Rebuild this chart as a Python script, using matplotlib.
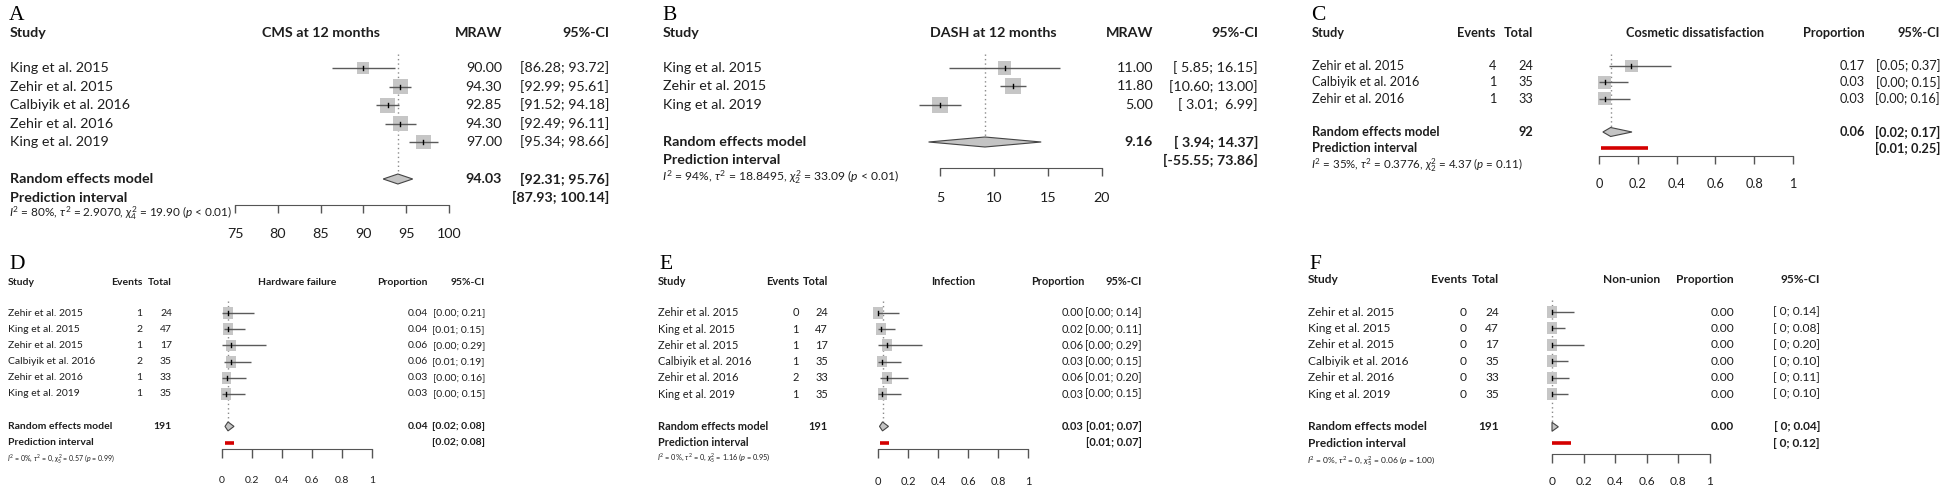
import numpy as np
import matplotlib
matplotlib.use("Agg")
import matplotlib.pyplot as plt
from matplotlib.patches import Rectangle, Polygon
from matplotlib.transforms import Affine2D, blended_transform_factory

W, H = 1946, 486
plt.rcParams['font.family'] = ['Lato', 'DejaVu Sans']
plt.rcParams['mathtext.fontset'] = 'custom'
plt.rcParams['mathtext.rm'] = 'Lato'
plt.rcParams['mathtext.it'] = 'Lato:italic'
plt.rcParams['mathtext.bf'] = 'Lato:bold'

# ---- A: CMS at 12 months ----
studies_A = ["King et al. 2015", "Zehir et al. 2015", "Calbiyik et al. 2016",
             "Zehir et al. 2016", "King et al. 2019"]
mraw_A = [90.00, 94.30, 92.85, 94.30, 97.00]
lo_A = [86.28, 92.99, 91.52, 92.49, 95.34]
hi_A = [93.72, 95.61, 94.18, 96.11, 98.66]
w_A = [14.0, 21.6, 21.8, 21.0, 21.6]
re_A = (94.03, 92.31, 95.76)
pi_A = (87.93, 100.14)
het_A = r"$I^2$ = 80%, $\tau^2$ = 2.9070, $\chi^2_4$ = 19.90 ($p$ < 0.01)"

# ---- B: DASH at 12 months ----
studies_B = ["King et al. 2015", "Zehir et al. 2015", "King et al. 2019"]
mraw_B = [11.00, 11.80, 5.00]
lo_B = [5.85, 10.60, 3.01]
hi_B = [16.15, 13.00, 6.99]
w_B = [26.0, 37.5, 36.5]
re_B = (9.16, 3.94, 14.37)
pi_B = (-55.55, 73.86)
het_B = r"$I^2$ = 94%, $\tau^2$ = 18.8495, $\chi^2_2$ = 33.09 ($p$ < 0.01)"

# ---- C: Cosmetic dissatisfaction ----
studies_C = ["Zehir et al. 2015", "Calbiyik et al. 2016", "Zehir et al. 2016"]
events_C = [4, 1, 1]
total_C = [24, 35, 33]
lo_C = [0.05, 0.00, 0.00]
hi_C = [0.37, 0.15, 0.16]
w_C = [33.3, 33.3, 33.4]
re_C = (0.06, 0.02, 0.17)
pi_C = (0.01, 0.25)
het_C = r"$I^2$ = 35%, $\tau^2$ = 0.3776, $\chi^2_2$ = 4.37 ($p$ = 0.11)"

# ---- D/E/F share the study list ----
studies_6 = ["Zehir et al. 2015", "King et al. 2015", "Zehir et al. 2015",
             "Calbiyik et al. 2016", "Zehir et al. 2016", "King et al. 2019"]
total_6 = [24, 47, 17, 35, 33, 35]

events_D = [1, 2, 1, 2, 1, 1]
lo_D = [0.00, 0.01, 0.00, 0.01, 0.00, 0.00]
hi_D = [0.21, 0.15, 0.29, 0.19, 0.16, 0.15]
w_D = [16.0, 17.5, 16.5, 17.5, 16.3, 16.2]
re_D = (0.04, 0.02, 0.08)
pi_D = (0.02, 0.08)
het_D = r"$I^2$ = 0%, $\tau^2$ = 0, $\chi^2_5$ = 0.57 ($p$ = 0.99)"

events_E = [0, 1, 1, 1, 2, 1]
lo_E = [0.00, 0.00, 0.00, 0.00, 0.01, 0.00]
hi_E = [0.14, 0.11, 0.29, 0.15, 0.20, 0.15]
w_E = [16.5, 16.0, 17.5, 16.5, 17.5, 16.0]
re_E = (0.03, 0.01, 0.07)
pi_E = (0.01, 0.07)
het_E = r"$I^2$ = 0%, $\tau^2$ = 0, $\chi^2_5$ = 1.16 ($p$ = 0.95)"

events_F = [0, 0, 0, 0, 0, 0]
lo_F = [0, 0, 0, 0, 0, 0]
hi_F = [0.14, 0.08, 0.20, 0.10, 0.11, 0.10]
w_F = [16.7, 16.7, 16.6, 16.7, 16.7, 16.6]
re_F = (0.00, 0.00, 0.04)
pi_F = (0.00, 0.12)
het_F = r"$I^2$ = 0%, $\tau^2$ = 0, $\chi^2_5$ = 0.06 ($p$ = 1.00)"

prop_ticks = [0, 0.2, 0.4, 0.6, 0.8, 1]
prop_labels = ["0", "0.2", "0.4", "0.6", "0.8", "1"]


def ci_plain(lo, hi):
    return f"[{lo:.2f}; {hi:.2f}]"


def ci_pad(lo, hi):
    return f"[{lo:5.2f}; {hi:5.2f}]"


def ci_zero(lo, hi):
    a = " 0" if lo == 0 else f"{lo:.2f}"
    return f"[{a}; {hi:.2f}]"


fig = plt.figure(figsize=(W / 100, H / 100), dpi=100)
PX = Affine2D().scale(1.0 / W, -1.0 / H).translate(0, 1) + fig.transFigure
PT = 72.0 / 100  # points per pixel
TXT = '#1e1e1e'


def forest(lay, studies, est, lo, hi, wts, re, pi, het, title, vlabel,
           ci_fmt, events=None, total=None):
    n = len(studies)
    y0, dy = lay['y0'], lay['dy']
    row = lambda p: (p - y0) / dy
    L, R = lay['px'][0], lay['px'][1]
    T, B = lay['yhead'] - 12, lay['yaxis']
    ax = fig.add_axes([L / W, 1 - B / H, (R - L) / W, (B - T) / H])
    xlim = lay['xlim']
    ax.set_xlim(*xlim)
    ax.set_ylim(row(B), row(T))
    ax.patch.set_visible(False)
    for s in ['top', 'right', 'left']:
        ax.spines[s].set_visible(False)
    ax.spines['bottom'].set_bounds(xlim[0], xlim[1])
    ax.spines['bottom'].set_color('#555555')
    ax.set_yticks([])
    ax.set_xticks(lay['ticks'])
    ax.set_xticklabels(lay['tlabels'])
    fs = lay['fs']
    tick_len = lay['tlen']
    pad = (lay['ylab'] - lay['yaxis']) - tick_len - 0.36 * fs / PT
    ax.tick_params(axis='x', direction='out', length=tick_len * PT, width=1,
                   color='#555555', pad=pad * PT, labelsize=fs, labelcolor=TXT)

    # study squares and confidence intervals
    ppu = (R - L) / (xlim[1] - xlim[0])
    smax = lay['sq']
    for i in range(n):
        side = smax * np.sqrt(wts[i] / max(wts))
        wd = side / ppu
        ht = side * lay['asp'] / dy
        ax.add_patch(Rectangle((est[i] - wd / 2, i - ht / 2), wd, ht,
                               fc='#c6c6c6', ec='none', clip_on=False, zorder=2))
        ax.plot([lo[i], hi[i]], [i, i], color='#5a5a5a', lw=1.0,
                solid_capstyle='butt', clip_on=False, zorder=3)
        ax.plot([est[i], est[i]], [i - 2.0 / dy, i + 2.0 / dy], color='black',
                lw=1.0, clip_on=False, zorder=4)

    # pooled diamond, reference line, prediction interval
    rr = n + 1
    hh = lay['dia'] / dy
    ax.add_patch(Polygon([(re[1], rr), (re[0], rr - hh), (re[2], rr), (re[0], rr + hh)],
                         closed=True, fc='#c4c4c4', ec='#444444', lw=0.8,
                         clip_on=False, zorder=3))
    ax.plot([re[0], re[0]], [-0.75, rr - hh], color='#8a8a8a', lw=1.0,
            ls=(0, (1, 2.2)), clip_on=False, zorder=1)
    if pi[0] >= xlim[0] - 1e-9 and pi[1] <= xlim[1] + 1e-9:
        ax.plot([pi[0], pi[1]], [rr + 1, rr + 1], color='#d40000',
                lw=lay['pilw'], solid_capstyle='butt', clip_on=False, zorder=3)

    # text columns
    tr = blended_transform_factory(PX, ax.transData)
    c = lay['cols']
    kw = dict(transform=tr, va='center', fontsize=fs, color=TXT)
    for i in range(n):
        fig.text(lay['xs'], i, studies[i], ha='left', **kw)
        if events is not None:
            fig.text(c['ev'], i, str(events[i]), ha='right', **kw)
            fig.text(c['tot'], i, str(total[i]), ha='right', **kw)
            val = events[i] / total[i]
        else:
            val = est[i]
        fig.text(c['val'], i, f"{val:.2f}", ha='right', **kw)
        fig.text(c['ci'], i, ci_fmt(lo[i], hi[i]), ha='right', **kw)

    fig.text(lay['xs'], rr, "Random effects model", ha='left', fontweight='bold', **kw)
    if events is not None:
        fig.text(c['tot'], rr, str(sum(total)), ha='right', fontweight='bold', **kw)
    fig.text(c['val'], rr, f"{re[0]:.2f}", ha='right', fontweight='bold', **kw)
    fig.text(c['ci'], rr, ci_fmt(re[1], re[2]), ha='right', fontweight='bold', **kw)
    fig.text(lay['xs'], rr + 1, "Prediction interval", ha='left', fontweight='bold', **kw)
    fig.text(c['ci'], rr + 1, ci_fmt(pi[0], pi[1]), ha='right', fontweight='bold', **kw)
    fig.text(lay['xs'] - 1, row(lay['yhet']), het, transform=tr, ha='left', va='center',
             fontsize=lay['fsh'], color=TXT)

    hk = dict(transform=PX, va='center', fontsize=fs, fontweight='bold', color=TXT)
    yh = lay['yhead']
    fig.text(lay['xs'], yh, "Study", ha='left', **hk)
    if events is not None:
        fig.text(c['ev'], yh, "Events", ha='right', **hk)
        fig.text(c['tot'], yh, "Total", ha='right', **hk)
    fig.text(c['hdr'], yh, title, ha='center', **hk)
    fig.text(c['val'], yh, vlabel, ha='right', **hk)
    fig.text(c['ci'], yh, "95%-CI", ha='right', **hk)
    fig.text(lay['lx'], lay['lbase'], lay['letter'], transform=PX, ha='left',
             va='baseline', fontsize=15.5, family=['Liberation Serif', 'DejaVu Serif'],
             color='black')


lay_A = dict(letter='A', lx=9, lbase=20, xs=10, y0=68, dy=18.5, yhead=33, yaxis=205,
             ylab=233, yhet=213, px=(235, 449), xlim=(75, 100),
             ticks=[75, 80, 85, 90, 95, 100], tlabels=["75", "80", "85", "90", "95", "100"],
             fs=10.3, fsh=8.5, tlen=8, sq=15, asp=1.0, dia=5, pilw=3.0,
             cols=dict(hdr=321, val=502, ci=609))
lay_B = dict(letter='B', lx=662, lbase=20, xs=663, y0=68, dy=18.5, yhead=33, yaxis=168,
             ylab=197, yhet=177, px=(940, 1102), xlim=(5, 20),
             ticks=[5, 10, 15, 20], tlabels=["5", "10", "15", "20"],
             fs=10.3, fsh=8.7, tlen=8, sq=16, asp=1.0, dia=5, pilw=3.0,
             cols=dict(hdr=993, val=1153, ci=1258))
lay_C = dict(letter='C', lx=1311, lbase=20, xs=1312, y0=66, dy=16.5, yhead=33, yaxis=156,
             ylab=183, yhet=165, px=(1599, 1793), xlim=(0, 1),
             ticks=prop_ticks, tlabels=prop_labels,
             fs=9.2, fsh=8.3, tlen=8, sq=13, asp=1.0, dia=4.5, pilw=2.6,
             cols=dict(ev=1496, tot=1533, hdr=1695, val=1865, ci=1940))
lay_D = dict(letter='D', lx=9, lbase=269, xs=8, y0=313, dy=16.2, yhead=282, yaxis=449,
             ylab=480, yhet=459, px=(222, 372), xlim=(0, 1),
             ticks=prop_ticks, tlabels=prop_labels,
             fs=7.5, fsh=5.0, tlen=9, sq=10, asp=1.2, dia=4.5, pilw=2.6,
             cols=dict(ev=142, tot=172, hdr=297, val=428, ci=485))
lay_E = dict(letter='E', lx=659, lbase=269, xs=658, y0=313, dy=16.2, yhead=281, yaxis=449,
             ylab=480, yhet=458, px=(878, 1028), xlim=(0, 1),
             ticks=prop_ticks, tlabels=prop_labels,
             fs=7.9, fsh=5.3, tlen=9, sq=10, asp=1.2, dia=4.5, pilw=2.6,
             cols=dict(ev=799, tot=828, hdr=953, val=1084, ci=1142))
lay_F = dict(letter='F', lx=1309, lbase=269, xs=1308, y0=312, dy=16.4, yhead=279, yaxis=454,
             ylab=480, yhet=461, px=(1552, 1710), xlim=(0, 1),
             ticks=prop_ticks, tlabels=prop_labels,
             fs=8.6, fsh=6.0, tlen=9, sq=10, asp=1.2, dia=4.5, pilw=2.6,
             cols=dict(ev=1467, tot=1499, hdr=1632, val=1734, ci=1820))

forest(lay_A, studies_A, mraw_A, lo_A, hi_A, w_A, re_A, pi_A, het_A,
       "CMS at 12 months", "MRAW", ci_plain)
forest(lay_B, studies_B, mraw_B, lo_B, hi_B, w_B, re_B, pi_B, het_B,
       "DASH at 12 months", "MRAW", ci_pad)
est_C = [e / t for e, t in zip(events_C, total_C)]
forest(lay_C, studies_C, est_C, lo_C, hi_C, w_C, re_C, pi_C, het_C,
       "Cosmetic dissatisfaction", "Proportion", ci_plain, events_C, total_C)
est_D = [e / t for e, t in zip(events_D, total_6)]
forest(lay_D, studies_6, est_D, lo_D, hi_D, w_D, re_D, pi_D, het_D,
       "Hardware failure", "Proportion", ci_plain, events_D, total_6)
est_E = [e / t for e, t in zip(events_E, total_6)]
forest(lay_E, studies_6, est_E, lo_E, hi_E, w_E, re_E, pi_E, het_E,
       "Infection", "Proportion", ci_plain, events_E, total_6)
est_F = [e / t for e, t in zip(events_F, total_6)]
forest(lay_F, studies_6, est_F, lo_F, hi_F, w_F, re_F, pi_F, het_F,
       "Non-union", "Proportion", ci_zero, events_F, total_6)

fig.savefig("out.png", dpi=100)
